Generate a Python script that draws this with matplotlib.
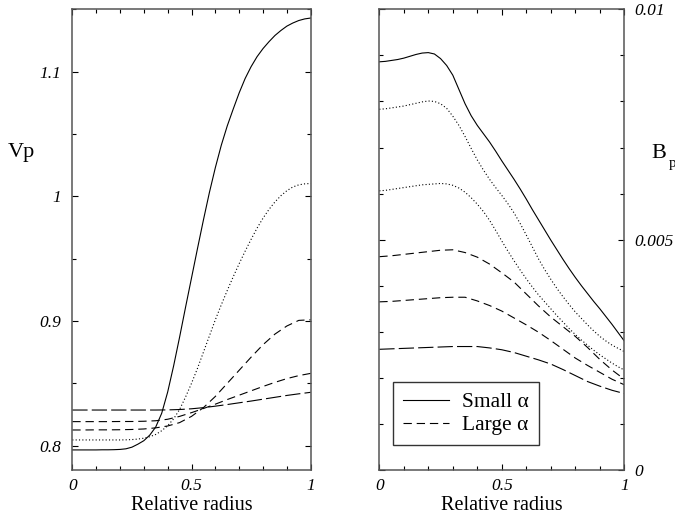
import numpy as np
import matplotlib.pyplot as plt
from matplotlib.ticker import FixedLocator, MultipleLocator

plt.rcParams['font.family'] = ['Liberation Serif', 'DejaVu Serif']
plt.rcParams['lines.scale_dashes'] = False

# sample positions along the radius
r_fine = np.linspace(0., 1., 41)
r_coarse = np.linspace(0., 1., 21)

# Vp profiles (left panel)
vp_solid = [0.7966, 0.7966, 0.7966, 0.7966, 0.7966, 0.7967, 0.7967, 0.7968,
            0.7970, 0.7975, 0.7988, 0.8012, 0.8040, 0.8085, 0.8150, 0.8260,
            0.8430, 0.8640, 0.8870, 0.9110, 0.9345, 0.9580, 0.9810, 1.0030,
            1.0230, 1.0410, 1.0565, 1.0700, 1.0830, 1.0945, 1.1040, 1.1120,
            1.1185, 1.1240, 1.1290, 1.1330, 1.1365, 1.1390, 1.1410, 1.1423,
            1.1430]
vp_dotted = [0.8046, 0.8046, 0.8046, 0.8046, 0.8046, 0.8046, 0.8046, 0.8046,
             0.8046, 0.8047, 0.8049, 0.8053, 0.8060, 0.8072, 0.8090, 0.8120,
             0.8160, 0.8215, 0.8290, 0.8390, 0.8500, 0.8620, 0.8750, 0.8880,
             0.9010, 0.9130, 0.9245, 0.9355, 0.9460, 0.9560, 0.9655, 0.9745,
             0.9825, 0.9895, 0.9955, 1.0005, 1.0045, 1.0075, 1.0092, 1.0100,
             1.0103]
vp_dash_a = [0.8126, 0.8126, 0.8127, 0.8127, 0.8128, 0.8130, 0.8134, 0.8143,
             0.8158, 0.8185, 0.8235, 0.8305, 0.8395, 0.8500, 0.8605, 0.8710,
             0.8810, 0.8895, 0.8960, 0.9005, 0.9010]
vp_dash_b = [0.8193, 0.8193, 0.8193, 0.8193, 0.8194, 0.8194, 0.8196, 0.8200,
             0.8212, 0.8235, 0.8265, 0.8298, 0.8333, 0.8370, 0.8405, 0.8440,
             0.8475, 0.8508, 0.8538, 0.8562, 0.8580]
vp_dash_c = [0.8286, 0.8286, 0.8286, 0.8286, 0.8286, 0.8286, 0.8286, 0.8286,
             0.8287, 0.8290, 0.8296, 0.8305, 0.8317, 0.8330, 0.8344, 0.8358,
             0.8373, 0.8388, 0.8403, 0.8416, 0.8428]

# Bp profiles (right panel)
bp_solid = [0.00886, 0.00887, 0.00889, 0.00891, 0.00894, 0.00898, 0.00902,
            0.00905, 0.00906, 0.00903, 0.00893, 0.00878, 0.00857, 0.00826,
            0.00795, 0.00769, 0.00748, 0.00730, 0.00712, 0.00692, 0.00671,
            0.00651, 0.00631, 0.00610, 0.00588, 0.00565, 0.00543, 0.00521,
            0.00499, 0.00478, 0.00457, 0.00437, 0.00418, 0.00400, 0.00383,
            0.00366, 0.00350, 0.00333, 0.00316, 0.00298, 0.00280]
bp_dotted_a = [0.00783, 0.00784, 0.00786, 0.00788, 0.00790, 0.00793, 0.00796,
               0.00799, 0.00801, 0.00800, 0.00795, 0.00785, 0.00768, 0.00748,
               0.00724, 0.00698, 0.00673, 0.00651, 0.00631, 0.00613, 0.00596,
               0.00578, 0.00558, 0.00535, 0.00510, 0.00484, 0.00458, 0.00435,
               0.00414, 0.00394, 0.00376, 0.00359, 0.00343, 0.00329, 0.00315,
               0.00302, 0.00290, 0.00280, 0.00271, 0.00264, 0.00257]
bp_dotted_b = [0.00606, 0.00607, 0.00609, 0.00611, 0.00613, 0.00615, 0.00617,
               0.00619, 0.00620, 0.00621, 0.00622, 0.00621, 0.00618, 0.00612,
               0.00603, 0.00591, 0.00577, 0.00561, 0.00542, 0.00520, 0.00497,
               0.00475, 0.00454, 0.00434, 0.00415, 0.00397, 0.00380, 0.00365,
               0.00350, 0.00335, 0.00321, 0.00307, 0.00294, 0.00282, 0.00271,
               0.00260, 0.00250, 0.00241, 0.00232, 0.00224, 0.00217]
bp_dash_a = [0.00463, 0.00465, 0.00468, 0.00471, 0.00474, 0.00477, 0.00478,
             0.00472, 0.00462, 0.00447, 0.00428, 0.00408, 0.00382, 0.00356,
             0.00332, 0.00311, 0.00290, 0.00266, 0.00240, 0.00217, 0.00197]
bp_dash_b = [0.00365, 0.00366, 0.00368, 0.00370, 0.00372, 0.00374, 0.00375,
             0.00375, 0.00367, 0.00357, 0.00345, 0.00330, 0.00315, 0.00299,
             0.00281, 0.00262, 0.00243, 0.00227, 0.00212, 0.00197, 0.00185]
bp_dash_c = [0.00262, 0.00263, 0.00264, 0.00265, 0.00266, 0.00267, 0.00268,
             0.00268, 0.00268, 0.00265, 0.00261, 0.00255, 0.00247, 0.00239,
             0.00230, 0.00218, 0.00205, 0.00192, 0.00182, 0.00173, 0.00166]

SOLID = '-'
DOTTED = (0, (0.8, 1.6))
DASHED = (0, (6., 3.5))
LONGDASH = (0, (11., 3.))
LW = 0.8


def style_axis(ax):
    for s in ax.spines.values():
        s.set_color('#555555')
        s.set_linewidth(1.1)
    ax.tick_params(which='both', direction='in', top=True, right=True,
                   width=0.8, color='black', labelsize=12.5)
    ax.tick_params(which='major', length=4.5)
    ax.tick_params(which='minor', length=3.)
    ax.set_xlim(0, 1)
    ax.xaxis.set_major_locator(FixedLocator([0, 0.5, 1]))
    ax.xaxis.set_minor_locator(MultipleLocator(0.1))
    ax.set_xticklabels(['0', '0.5', '1'], fontstyle='italic')
    ax.tick_params(axis='x', pad=6)
    ax.set_xlabel('Relative radius', fontsize=14.5, labelpad=1)


fig = plt.figure(figsize=(6.75, 5.2), dpi=100)
ax1 = fig.add_axes([72.3 / 675, 50 / 520, 238.4 / 675, 460.7 / 520])
ax2 = fig.add_axes([379.3 / 675, 50 / 520, 245. / 675, 460.7 / 520])

# left: Vp
ax1.plot(r_fine, vp_solid, color='black', lw=LW, ls=SOLID)
ax1.plot(r_fine, vp_dotted, color='black', lw=LW, ls=DOTTED)
ax1.plot(r_coarse, vp_dash_a, color='black', lw=LW, ls=DASHED)
ax1.plot(r_coarse, vp_dash_b, color='black', lw=LW, ls=DASHED)
ax1.plot(r_coarse, vp_dash_c, color='black', lw=LW, ls=LONGDASH)
style_axis(ax1)
ax1.set_ylim(0.7805, 1.150)
ax1.yaxis.set_major_locator(FixedLocator([0.8, 0.9, 1.0, 1.1]))
ax1.yaxis.set_minor_locator(MultipleLocator(0.05))
ax1.set_yticklabels(['0.8', '0.9', '1', '1.1'], fontstyle='italic')
ax1.tick_params(axis='y', pad=8)
fig.text(8 / 675, 1 - 157 / 520, 'Vp', fontsize=16, ha='left',
         va='baseline')

# right: Bp
l_small, = ax2.plot(r_fine, bp_solid, color='black', lw=LW, ls=SOLID)
ax2.plot(r_fine, bp_dotted_a, color='black', lw=LW, ls=DOTTED)
ax2.plot(r_fine, bp_dotted_b, color='black', lw=LW, ls=DOTTED)
l_large, = ax2.plot(r_coarse, bp_dash_a, color='black', lw=LW, ls=DASHED)
ax2.plot(r_coarse, bp_dash_b, color='black', lw=LW, ls=DASHED)
ax2.plot(r_coarse, bp_dash_c, color='black', lw=LW, ls=LONGDASH)
style_axis(ax2)
ax2.set_ylim(0, 0.01)
ax2.yaxis.set_major_locator(FixedLocator([0, 0.005, 0.01]))
ax2.yaxis.set_minor_locator(MultipleLocator(0.001))
ax2.set_yticklabels(['0', '0.005', '0.01'], fontstyle='italic')
ax2.tick_params(axis='y', labelleft=False, labelright=True, pad=7)
fig.text(651.5 / 675, 1 - 158.5 / 520, 'B', fontsize=16, ha='left',
         va='baseline')
fig.text(669 / 675, 1 - 167 / 520, 'p', fontsize=11, ha='left',
         va='baseline')

leg = ax2.legend([l_small, l_large], ['Small α', 'Large α'],
                 loc='lower left', bbox_to_anchor=(0.057, 0.054),
                 borderaxespad=0, fontsize=15.5, handlelength=2.15,
                 handletextpad=0.6, labelspacing=0.15, borderpad=0.45,
                 fancybox=False, framealpha=1)
leg.get_frame().set_edgecolor('#333333')
leg.get_frame().set_linewidth(1.0)

fig.savefig('out.png', dpi=100)
